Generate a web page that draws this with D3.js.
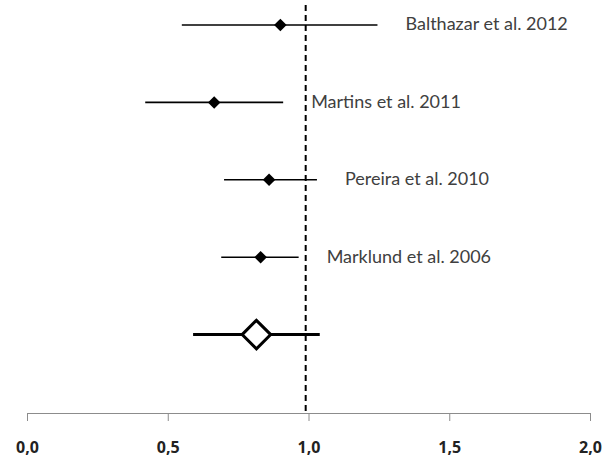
<!DOCTYPE html>
<html>
<head>
<meta charset="utf-8">
<script src="https://cdn.jsdelivr.net/npm/d3@7"></script>
<style>
  body { margin: 0; background: #fff; }
  text { font-family: Lato, 'Open Sans', sans-serif; }
</style>
</head>
<body>
<div id="app"></div>
<script>
'use strict'
// study rows, top to bottom, then the pooled estimate
const studies = ['Balthazar et al. 2012', 'Martins et al. 2011', 'Pereira et al. 2010', 'Marklund et al. 2006']
const estimates = [0.90, 0.665, 0.86, 0.83]
const lower = [0.55, 0.42, 0.70, 0.69]
const upper = [1.245, 0.91, 1.03, 0.965]

const pooled = { est: 0.815, lo: 0.59, hi: 1.04 }
const refLine = 0.99
const xTicks = [0, 0.5, 1, 1.5, 2]

const width = 606
const height = 459

const svg = d3.select('#app').append('svg')
  .attr('width', width)
  .attr('height', height)

const xScale = d3.scaleLinear()
  .domain([0, 2])
  .range([27, 590])

const rows = studies.concat(['pooled', 'axis'])
const yScale = d3.scalePoint()
  .domain(rows)
  .range([25, 412])

const axisY = yScale('axis') + 1

// x axis
const xAxis = svg.append('g')
  .attr('transform', `translate(0, ${axisY})`)
  .call(d3.axisBottom(xScale)
    .tickValues(xTicks)
    .tickSize(8)
    .tickPadding(21)
    .tickFormat(d => d3.format('.1f')(d).replace('.', ',')))

xAxis.select('.domain').attr('stroke', '#8c8c8c')
xAxis.selectAll('.tick line').attr('stroke', '#8c8c8c')
xAxis.selectAll('.tick text')
  .attr('fill', '#222')
  .style('font-family', "'Open Sans', sans-serif")
  .style('font-size', '16px')
  .style('font-weight', 'bold')

// reference line
svg.append('line')
  .attr('x1', xScale(refLine)).attr('x2', xScale(refLine))
  .attr('y1', 5).attr('y2', axisY)
  .attr('stroke', '#000')
  .attr('stroke-width', 2)
  .attr('stroke-dasharray', '6,4')

const diamond = d3.symbol().type(d3.symbolDiamond2)

// study intervals
const rowsG = svg.selectAll('.study')
  .data(studies)
  .enter()
  .append('g')
  .attr('class', 'study')

rowsG.append('line')
  .attr('x1', (d, i) => xScale(lower[i]))
  .attr('x2', (d, i) => xScale(upper[i]))
  .attr('y1', d => yScale(d))
  .attr('y2', d => yScale(d))
  .attr('stroke', '#000')
  .attr('stroke-width', 1.6)

rowsG.append('path')
  .attr('d', diamond.size(100))
  .attr('transform', (d, i) => `translate(${xScale(estimates[i])}, ${yScale(d)})`)
  .attr('fill', '#000')

rowsG.append('text')
  .attr('x', (d, i) => xScale(upper[i]) + 28)
  .attr('y', d => yScale(d))
  .attr('dy', '0.3em')
  .attr('fill', '#404040')
  .style('font-size', '18px')
  .text(d => d)

// pooled estimate
const py = yScale('pooled')
svg.append('line')
  .attr('x1', xScale(pooled.lo))
  .attr('x2', xScale(pooled.hi))
  .attr('y1', py).attr('y2', py)
  .attr('stroke', '#000')
  .attr('stroke-width', 3)

svg.append('path')
  .attr('d', diamond.size(520))
  .attr('transform', `translate(${xScale(pooled.est)}, ${py})`)
  .attr('fill', '#fff')
  .attr('stroke', '#000')
  .attr('stroke-width', 3)
</script>
</body>
</html>
